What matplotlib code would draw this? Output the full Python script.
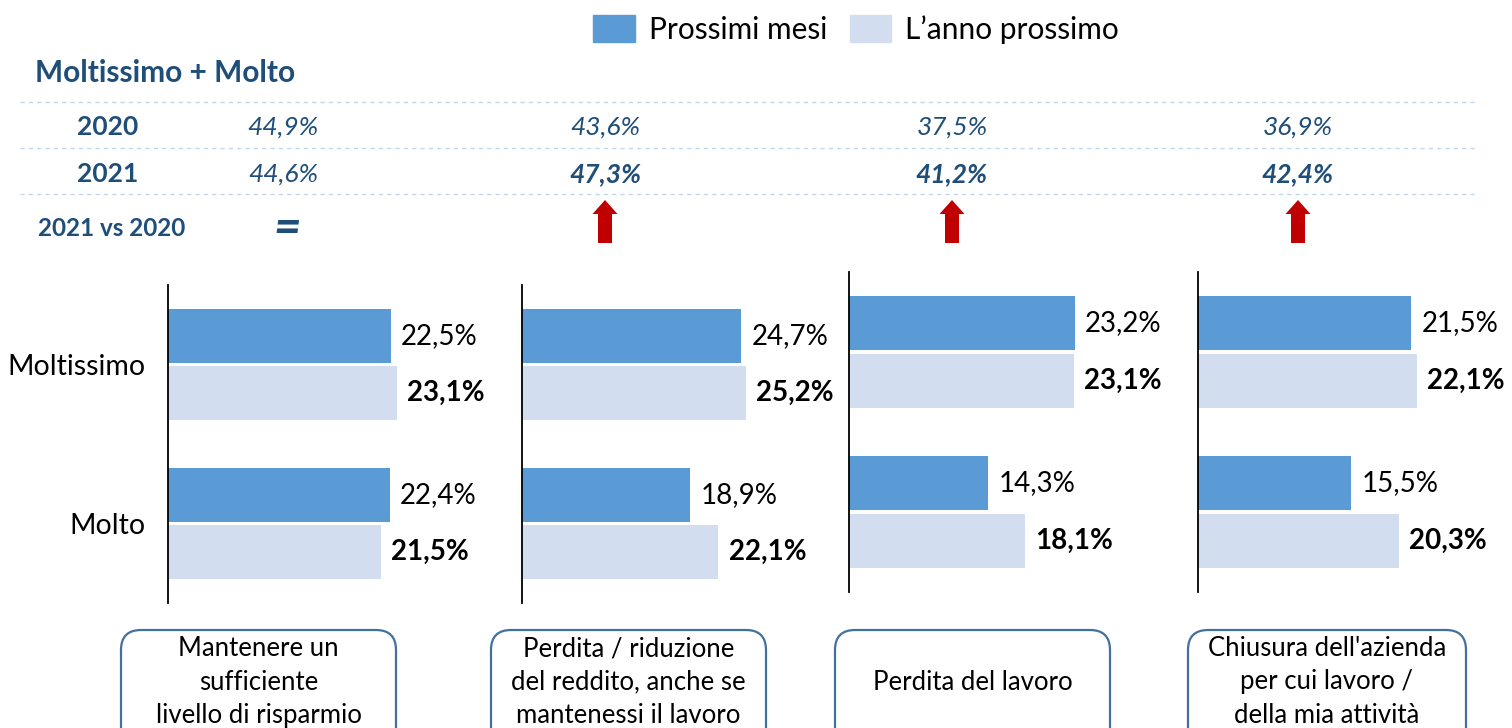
import numpy as np
import matplotlib.pyplot as plt
from matplotlib.patches import FancyBboxPatch, FancyArrow, Patch

plt.rcParams['font.family'] = ['Lato', 'DejaVu Sans']

# Data
categories = ['Moltissimo', 'Molto']
panel_titles = ['Mantenere un\nsufficiente\nlivello di risparmio',
                'Perdita / riduzione\ndel reddito, anche se\nmantenessi il lavoro',
                'Perdita del lavoro',
                "Chiusura dell'azienda\nper cui lavoro /\ndella mia attività"]
prossimi_mesi = [[22.5, 22.4], [24.7, 18.9], [23.2, 14.3], [21.5, 15.5]]
anno_prossimo = [[23.1, 21.5], [25.2, 22.1], [23.1, 18.1], [22.1, 20.3]]
tot_2020 = [44.9, 43.6, 37.5, 36.9]
tot_2021 = [44.6, 47.3, 41.2, 42.4]
trend = ['=', 'up', 'up', 'up']

dark = '#5B9BD5'
light = '#D2DEEF'
navy = '#1F4E79'
red = '#C00000'

W, H = 1512, 728
fig = plt.figure(figsize=(W / 100, H / 100), dpi=100)

# overlay axes in pixel coordinates for the table and boxes
ax0 = fig.add_axes([0, 0, 1, 1])
ax0.set_xlim(0, W)
ax0.set_ylim(H, 0)
ax0.axis('off')


def fmt(v):
    return f'{v:.1f}%'.replace('.', ',')


# table header
ax0.text(35, 73, 'Moltissimo + Molto', fontsize=21.5, fontweight='bold', color=navy, va='center')
for yy in [102, 148, 194]:
    ax0.plot([20, 1474], [yy, yy], color='#BDD7EE', lw=1, ls=(0, (3, 3)))
ax0.text(108, 127, '2020', fontsize=19, fontweight='bold', color=navy, ha='center', va='center')
ax0.text(108, 174, '2021', fontsize=19, fontweight='bold', color=navy, ha='center', va='center')
ax0.text(112, 228, '2021 vs 2020', fontsize=17.5, fontweight='bold', color=navy, ha='center', va='center')

col_x = [283, 605, 952, 1298]
for i, cx in enumerate(col_x):
    ax0.text(cx, 127, fmt(tot_2020[i]), fontsize=19, style='italic', color=navy, ha='center', va='center')
    ax0.text(cx, 174, fmt(tot_2021[i]), fontsize=19, style='italic', color=navy, ha='center', va='center',
             fontweight='bold' if trend[i] == 'up' else 'normal')
    if trend[i] == 'up':
        ax0.add_patch(FancyArrow(cx, 243, 0, -43, width=14, head_width=25, head_length=14,
                                 length_includes_head=True, color=red, lw=0))
    else:
        ax0.text(cx + 4, 229, '=', fontsize=34, fontweight='bold', style='italic', color=navy,
                 ha='center', va='center')

# panels
lefts = [168, 522, 849, 1198]
tops = [285, 285, 272, 272]
bottoms = [603, 603, 592, 592]
px_per_pct = [9.9, 8.88, 9.73, 9.9]
box_x = [(121, 396), (491, 766), (835, 1110), (1188, 1466)]
aw = 300
y = np.arange(len(categories))
for i in range(4):
    ax = fig.add_axes([lefts[i] / W, 1 - bottoms[i] / H, aw / W, (bottoms[i] - tops[i]) / H])
    ax.set_xlim(0, aw / px_per_pct[i])
    ax.set_ylim(1.5, -0.5)
    ax.barh(y - 0.182, prossimi_mesi[i], height=0.34, color=dark)
    ax.barh(y + 0.18, anno_prossimo[i], height=0.34, color=light)
    for j in range(len(categories)):
        ax.annotate(fmt(prossimi_mesi[i][j]), (prossimi_mesi[i][j], y[j] - 0.182), xytext=(7.5, 0),
                    textcoords='offset points', va='center', fontsize=20, annotation_clip=False)
        ax.annotate(fmt(anno_prossimo[i][j]), (anno_prossimo[i][j], y[j] + 0.18), xytext=(7.5, 0),
                    textcoords='offset points', va='center', fontsize=20, fontweight='bold',
                    annotation_clip=False)
    for s in ['top', 'right', 'bottom']:
        ax.spines[s].set_visible(False)
    ax.spines['left'].set_linewidth(1.3)
    ax.set_xticks([])
    ax.tick_params(axis='y', length=0, pad=16, labelsize=20.5)
    if i == 0:
        ax.set_yticks(y, categories)
    else:
        ax.set_yticks([])
    ax.patch.set_alpha(0)

    # label box
    x0, x1 = box_x[i]
    ax0.add_patch(FancyBboxPatch((x0 + 20, 650), x1 - x0 - 40, 120,
                                 boxstyle='round,pad=20', fc='white', ec='#41719C', lw=1.6))
    ax0.text((x0 + x1) / 2, 682, panel_titles[i], fontsize=18.5, ha='center', va='center',
             linespacing=1.42)

handles = [Patch(color=dark, label='Prossimi mesi'), Patch(color=light, label='L\u2019anno prossimo')]
fig.legend(handles=handles, loc='upper center', bbox_to_anchor=(856 / W, 1.016), ncol=2,
           frameon=False, fontsize=21.5, handlelength=1.4, handleheight=1.0, columnspacing=0.75,
           handletextpad=0.45)

fig.savefig('out.png', dpi=100)
